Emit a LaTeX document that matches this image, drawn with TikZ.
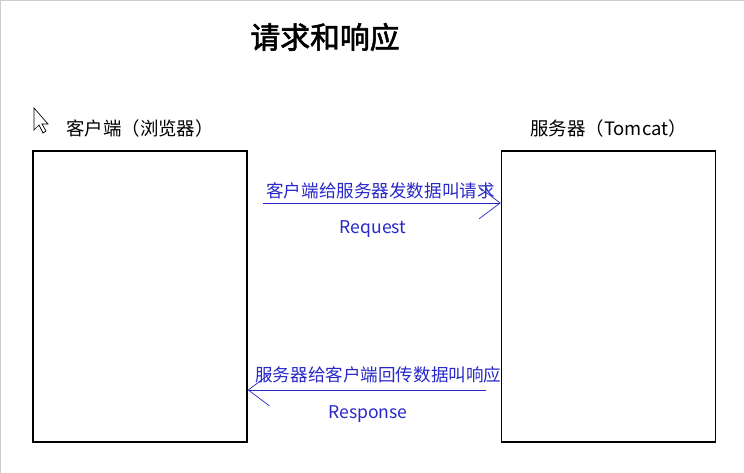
\documentclass[tikz,border=0pt]{standalone}
\usepackage{fontspec}
\setmainfont{Noto Sans CJK SC}
\newfontfamily\cjkbold[FakeBold=2]{Noto Sans CJK SC}
\usepackage{tikz}
\usetikzlibrary{positioning, arrows.meta, calc}
\definecolor{msg-blue}{RGB}{40,40,200}

\begin{document}
\begin{tikzpicture}[x=0.02cm, y=-0.02cm,
	side/.style={draw, thick, minimum width=4.28cm, minimum height=5.82cm, inner sep=0pt},
	msg/.style={msg-blue, font=\fontsize{10}{12}\selectfont, align=left, text width=4.6cm, inner sep=0pt},
	tag/.style={msg-blue, font=\fontsize{10}{12}\selectfont},
	flow/.style={msg-blue, -{Straight Barb[length=12pt, width=18pt]}}]
	\useasboundingbox (0,0) rectangle (744,473);
	\draw[gray!40] (0,0) rectangle (744,473);
	\node[font=\cjkbold\fontsize{17}{20}\selectfont] at (325,37) (title) {请求和响应};

	% cursor
	\draw[fill=white] (34,108) -- (34,130) -- (39,125) -- (43,133) -- (46,131) -- (42,124) -- (48,124) -- cycle;

	\node[side] at (140,296.5) (client) {};
	\node[side] at (608.5,296.5) (server) {};
	\node[font=\fontsize{10.5}{12}\selectfont, above=4pt of client] (clientlbl) {客户端（浏览器）};
	\node[font=\fontsize{10.5}{12}\selectfont, above=4pt of server] (serverlbl) {服务器（Tomcat）};

	\coordinate (reqs) at (263,203);
	\coordinate (reqe) at (server.west |- reqs);
	\draw[flow] (reqs) -- (reqe);
	\node[msg, anchor=south west] at (266,199) (reqtxt) {客户端给服务器发数据叫请求};
	\node[tag] at (373,229) (req) {Request};

	\coordinate (resps) at (486,390);
	\coordinate (respe) at (client.east |- resps);
	\draw[flow] (resps) -- (respe);
	\node[msg, anchor=south west] at (255,383) (resptxt) {服务器给客户端回传数据叫响应};
	\node[tag] at (368,414) (resp) {Response};
\end{tikzpicture}
\end{document}
